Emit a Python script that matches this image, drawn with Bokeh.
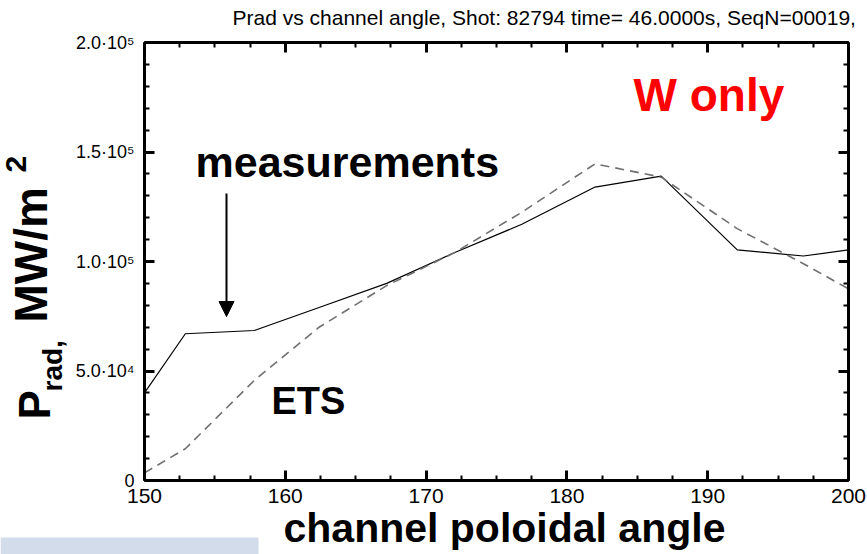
import math
from bokeh.plotting import figure
from bokeh.models import (Range1d, SingleIntervalTicker, LinearAxis, Label, Arrow,
                          NormalHead, BoxAnnotation, CustomJSTickFormatter)
from bokeh.embed import file_html
from bokeh.resources import INLINE

# ---- data ----
angle = [150.0, 152.9, 157.8, 162.4, 167.2, 172.0, 176.8, 182.0, 186.7, 192.1, 196.8, 200.0]
prad_measured = [40000, 67000, 68500, 79000, 90000, 104000, 117000, 134000, 139000, 105300, 102500, 105300]
prad_ets = [3500, 14500, 45700, 70000, 89000, 104000, 122500, 144600, 138500, 115000, 99000, 87500]

x_ticks = [150, 160, 170, 180, 190, 200]
y_ticks = [0, 50000, 100000, 150000, 200000]
y_tick_labels = ["0", "5.0·10⁴", "1.0·10⁵", "1.5·10⁵", "2.0·10⁵"]

title_text = "Prad vs channel angle, Shot: 82794 time= 46.0000s, SeqN=00019,"
x_label = "channel poloidal angle"

X0, X1 = 150, 200
Y0, Y1 = 0, 200000

# ---- layout (pixels) ----
W, H = 867, 554
BOX_L, BOX_R, BOX_T, BOX_B = 144, 848, 42, 480
FONT = "Liberation Sans"

# the frame covers the whole canvas; axes are pinned at the plot-box edges
sx = (X1 - X0) / (BOX_R - BOX_L)
sy = (Y1 - Y0) / (BOX_B - BOX_T)
x_range = Range1d(X0 - BOX_L * sx, X1 + (W - BOX_R) * sx)
y_range = Range1d(Y0 - (H - BOX_B) * sy, Y1 + BOX_T * sy)

p = figure(width=W, height=H, output_backend="svg", toolbar_location=None,
           x_range=x_range, y_range=y_range, x_axis_location=None, y_axis_location=None,
           min_border=0, background_fill_color="white", border_fill_color="white")
p.grid.visible = False
p.outline_line_color = None


def make_axis(ticker_interval, minor, loc, bounds, labels):
    ax = LinearAxis(ticker=SingleIntervalTicker(interval=ticker_interval, num_minor_ticks=minor),
                    fixed_location=loc, bounds=bounds)
    ax.axis_line_width = 3
    ax.axis_line_color = "black"
    ax.major_tick_in = 10
    ax.major_tick_out = 0
    ax.minor_tick_in = 5
    ax.minor_tick_out = 0
    ax.major_tick_line_width = 3
    ax.minor_tick_line_width = 2
    ax.major_tick_line_color = "black"
    ax.minor_tick_line_color = "black"
    ax.major_label_text_font = FONT
    ax.major_label_text_color = "black"
    if not labels:
        ax.formatter = CustomJSTickFormatter(code="return ''")
    return ax


bottom = make_axis(10, 4, Y0, (X0, X1), True)
bottom.major_label_text_font_size = "21px"
bottom.major_label_standoff = 8
left = make_axis(50000, 5, X0, (Y0, Y1), True)
left.major_label_text_font_size = "18px"
left.major_label_standoff = 10
left.major_label_overrides = {v: s for v, s in zip(y_ticks, y_tick_labels)}
top = make_axis(10, 4, Y1, (X0, X1), False)
right = make_axis(50000, 5, X1, (Y0, Y1), False)
p.add_layout(bottom, "below")
p.add_layout(left, "left")
p.add_layout(top, "above")
p.add_layout(right, "right")

# screen-bar artefact at lower left of the reference
p.add_layout(BoxAnnotation(left=0, right=258, bottom=0, top=H - 537,
                           left_units="screen", right_units="screen",
                           bottom_units="screen", top_units="screen",
                           fill_color="#d3dcea", fill_alpha=1.0, line_color=None))

# ---- lines ----
p.line(angle, prad_measured, line_color="black", line_width=1.2)
p.line(angle, prad_ets, line_color="#707070", line_width=1.6, line_dash="9 6")


# ---- texts: positions = canvas pixels (from top-left) of the text baseline start ----
def lab(text, X, Y, px, color="black", bold=True, rot=False):
    shift = 0.36 * px  # compensate bokeh's baseline placement
    if rot:
        x, y, a = X - shift, H - Y, math.pi / 2
    else:
        x, y, a = X, H - (Y - shift), 0.0
    l = Label(x=x, y=y, x_units="screen", y_units="screen", text=text,
              text_font=FONT, text_font_size=f"{px}px", text_color=color,
              text_font_style="bold" if bold else "normal",
              text_baseline="alphabetic", text_align="left", angle=a)
    p.add_layout(l)


lab(title_text, 232, 25, 21, bold=False)
lab("measurements", 195, 177, 43)
lab("ETS", 271, 414, 38)
lab("W only", 633, 111, 46, color="#ff0000")
lab(x_label, 283, 542, 41)

lab("P", 50, 419, 44, rot=True)
lab("rad,", 62, 391, 28, rot=True)
lab(" MW/m", 47, 322, 46, rot=True)
lab("2", 26, 172, 30, rot=True)

# arrow
p.add_layout(Arrow(x_start=226, y_start=H - 193, x_end=226, y_end=H - 316,
                   start_units="screen", end_units="screen",
                   line_color="black", line_width=2,
                   end=NormalHead(size=15, fill_color="black", line_color="black")))

open("out.html", "w").write(file_html(p, INLINE))
